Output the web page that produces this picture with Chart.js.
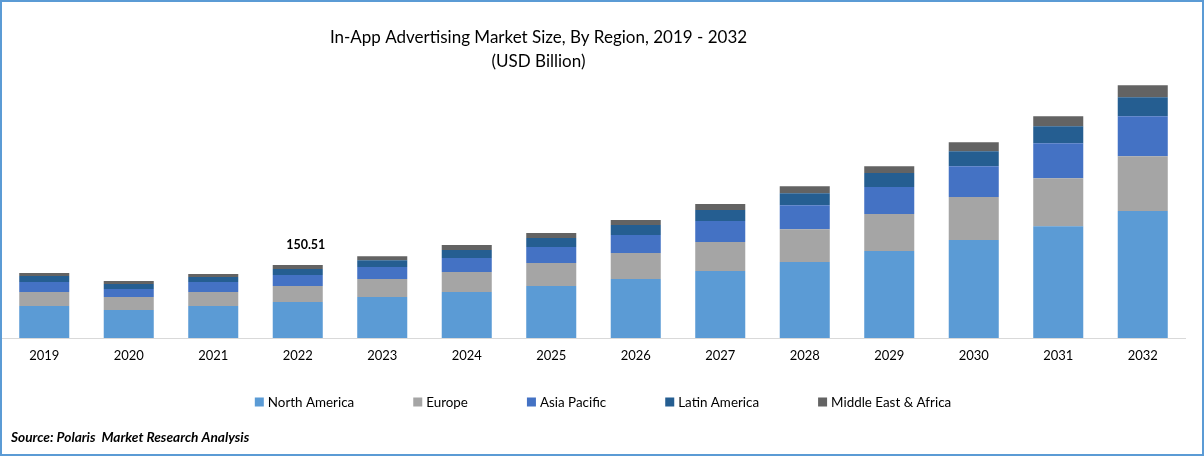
<!DOCTYPE html>
<html>
<head>
<meta charset="utf-8">
<title>In-App Advertising Market Size</title>
<script src="https://cdn.jsdelivr.net/npm/chart.js@4"></script>
<style>
    html, body { margin: 0; padding: 0; background: #fff; }
    #frame { position: relative; width: 1204px; height: 456px; overflow: hidden; }
    #frame::after { content: ""; position: absolute; inset: 0; border: 2px solid #5B9BD5; pointer-events: none; }
    canvas { display: block; }
</style>
</head>
<body>
<div id="frame"><canvas id="regionChart" width="1204" height="456"></canvas></div>
<script>
const years = ['2019', '2020', '2021', '2022', '2023', '2024', '2025', '2026', '2027', '2028', '2029', '2030', '2031', '2032'];

// USD billion (2022 total is the labelled 150.51)
const northAmerica = [66, 57.7, 66, 74.2, 84.5, 94.9, 107.2, 121.7, 138.2, 156.7, 179.4, 202.1, 230.9, 261.9];
const europe = [28.9, 26.8, 28.9, 33, 37.1, 41.2, 47.4, 53.6, 59.8, 68, 76.3, 88.7, 99, 113.4];
const asiaPacific = [20.6, 16.5, 20.6, 22.7, 24.7, 28.9, 33, 37.1, 43.3, 49.5, 55.7, 63.9, 72.2, 82.5];
const latinAmerica = [12.4, 10.3, 10.3, 12.4, 14.4, 16.5, 18.6, 20.6, 22.7, 24.7, 28.9, 30.9, 35.1, 39.2];
const middleEastAfrica = [6.2, 6.2, 6.2, 8.21, 8.2, 10.3, 10.3, 10.3, 12.4, 14.4, 14.4, 18.6, 20.6, 24.7];

const seriesNames = ['North America', 'Europe', 'Asia Pacific', 'Latin America', 'Middle East & Africa'];
const seriesColors = ['#5B9BD5', '#A5A5A5', '#4472C4', '#255E91', '#636363'];
const seriesValues = [northAmerica, europe, asiaPacific, latinAmerica, middleEastAfrica];

const titleLines = ['In-App Advertising Market Size, By Region, 2019 - 2032', '(USD Billion)'];
const calloutYear = '2022';
const sourceText = 'Source: Polaris  Market Research Analysis';

const fontName = 'Lato, "Open Sans", sans-serif';

// title in the picture sits left of centre, the library only centres on the canvas
const titleShift = {
    id: 'titleShift',
    afterLayout(chart) {
        chart.titleBlock.right -= 110;
    }
};

// total above one bar, taken from the stacked values
const totalCallout = {
    id: 'totalCallout',
    afterDatasetsDraw(chart) {
        const i = years.indexOf(calloutYear);
        const total = seriesValues.reduce((sum, s) => sum + s[i], 0);
        const ctx = chart.ctx;
        ctx.save();
        ctx.font = 'bold 12.5px ' + fontName;
        ctx.fillStyle = '#000';
        ctx.textAlign = 'center';
        ctx.textBaseline = 'middle';
        ctx.fillText(total.toFixed(2), chart.scales.x.getPixelForValue(i) + 8, chart.scales.y.getPixelForValue(total) - 20);
        ctx.restore();
    }
};

// built-in legend padding also grows its height, so the wide row is drawn here
const legendRow = {
    id: 'legendRow',
    afterDraw(chart) {
        const ctx = chart.ctx;
        const gap = 59, box = 9, boxGap = 4, y = 403;
        ctx.save();
        ctx.font = '13.4px ' + fontName;
        ctx.textBaseline = 'middle';
        ctx.textAlign = 'left';
        const widths = seriesNames.map(n => ctx.measureText(n).width);
        const rowWidth = widths.reduce((a, w) => a + w + box + boxGap, 0) + gap * (seriesNames.length - 1);
        let x = 603 - rowWidth / 2;
        seriesNames.forEach((name, i) => {
            ctx.fillStyle = seriesColors[i];
            ctx.fillRect(x, y - 5.5, box, box);
            ctx.fillStyle = '#000';
            ctx.fillText(name, x + box + boxGap, y);
            x += box + boxGap + widths[i] + gap;
        });
        ctx.font = 'italic bold 13.7px ' + fontName;
        ctx.fillText(sourceText, 11, 438);
        ctx.restore();
    }
};

const regionChart = new Chart(document.getElementById('regionChart').getContext('2d'), {
    type: 'bar',
    data: {
        labels: years,
        datasets: seriesNames.map((name, i) => ({
            label: name,
            data: seriesValues[i],
            backgroundColor: seriesColors[i],
            borderWidth: 0,
            barPercentage: 0.592,
            categoryPercentage: 1
        }))
    },
    options: {
        responsive: false,
        animation: false,
        layout: { padding: { left: 2, right: 19, top: 0, bottom: 0 } },
        plugins: {
            legend: { display: false },
            tooltip: { enabled: false },
            title: {
                display: true,
                text: titleLines,
                color: '#000',
                font: { family: fontName, size: 17, weight: 'normal', lineHeight: 1.41 },
                padding: { top: 26, bottom: 0 }
            }
        },
        scales: {
            x: {
                stacked: true,
                afterFit(scale) { scale.height = 118; },
                grid: { display: false, drawTicks: false },
                border: { display: true, color: '#D9D9D9', width: 1 },
                ticks: { color: '#000', font: { family: fontName, size: 13 }, padding: 10, maxRotation: 0 }
            },
            y: {
                stacked: true,
                display: false,
                min: 0,
                max: 545
            }
        }
    },
    plugins: [titleShift, totalCallout, legendRow]
});
</script>
</body>
</html>
